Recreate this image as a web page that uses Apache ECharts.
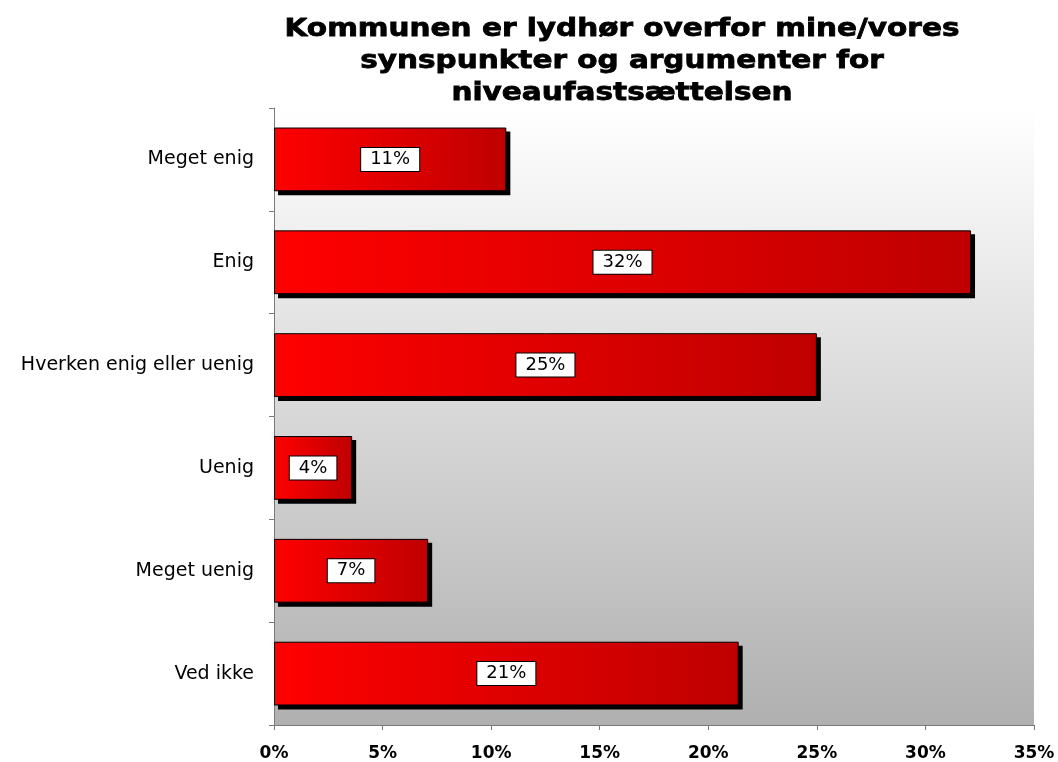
<!DOCTYPE html>
<html>
<head>
<meta charset="utf-8">
<script src="https://cdn.jsdelivr.net/npm/echarts@6/dist/echarts.min.js"></script>
<style>
  html, body { margin: 0; padding: 0; background: #fff; }
  #main { width: 1058px; height: 762px; }
</style>
</head>
<body>
<div id="main"></div>
<script>
// svarkategorier og andele (%)
var categories = ['Meget enig', 'Enig', 'Hverken enig eller uenig', 'Uenig', 'Meget uenig', 'Ved ikke'];
var values = [10.7, 32.1, 25.0, 3.6, 7.1, 21.4];
var xTicks = [0, 5, 10, 15, 20, 25, 30, 35];
var titleText = 'Kommunen er lydhør overfor mine/vores\nsynspunkter og argumenter for\nniveaufastsættelsen';

var chart = echarts.init(document.getElementById('main'));

// skygge bag hver bjælke (sort, forskudt 4px)
function renderShadow(params, api) {
  var start = api.coord([0, api.value(1)]);
  var end = api.coord([api.value(0), api.value(1)]);
  var h = api.size([0, 1])[1] * 0.62;
  return {
    type: 'rect',
    shape: { x: start[0] + 4, y: start[1] - h / 2 + 4, width: end[0] - start[0], height: h },
    style: { fill: '#000' }
  };
}

var option = {
  backgroundColor: '#ffffff',
  animation: false,
  graphic: [{
    type: 'text',
    x: 622,
    y: 13,
    scaleX: 1.18,
    style: {
      text: titleText,
      font: 'bold 25px "DejaVu Sans"',
      textAlign: 'center',
      textVerticalAlign: 'top',
      lineHeight: 32,
      fill: '#000',
      stroke: '#000',
      lineWidth: 0.8
    }
  }],
  grid: {
    left: 274,
    right: 24,
    top: 108,
    bottom: 34,
    show: true,
    borderWidth: 0,
    backgroundColor: {
      type: 'linear', x: 0, y: 0, x2: 0, y2: 1,
      colorStops: [
        { offset: 0, color: '#ffffff' },
        { offset: 1, color: '#b0b0b0' }
      ]
    }
  },
  xAxis: {
    type: 'value',
    min: xTicks[0],
    max: xTicks[xTicks.length - 1],
    interval: 5,
    splitLine: { show: false },
    axisLine: { show: true, lineStyle: { color: '#7a7a7a', width: 1 } },
    axisTick: { show: true, length: 5, lineStyle: { color: '#7a7a7a' } },
    axisLabel: {
      margin: 20,
      fontFamily: 'DejaVu Sans',
      fontWeight: 'bold',
      fontSize: 17,
      color: '#000',
      formatter: function (v) { return v + '%'; }
    }
  },
  yAxis: {
    type: 'category',
    inverse: true,
    data: categories,
    axisLine: { show: true, lineStyle: { color: '#7a7a7a', width: 1 } },
    axisTick: { show: true, length: 5, lineStyle: { color: '#7a7a7a' } },
    axisLabel: {
      margin: 20,
      fontFamily: 'DejaVu Sans',
      fontSize: 19,
      color: '#000'
    }
  },
  series: [{
    type: 'custom',
    renderItem: renderShadow,
    encode: { x: 0, y: 1 },
    data: values.map(function (v, i) { return [v, i]; }),
    z: 1,
    silent: true
  }, {
    type: 'bar',
    data: values,
    barWidth: '62%',
    z: 2,
    itemStyle: {
      color: {
        type: 'linear', x: 0, y: 0, x2: 1, y2: 0,
        colorStops: [
          { offset: 0, color: '#ff0000' },
          { offset: 1, color: '#bf0000' }
        ]
      },
      borderColor: '#000',
      borderWidth: 1
    },
    label: {
      show: true,
      position: 'inside',
      fontFamily: 'DejaVu Sans',
      fontSize: 18,
      color: '#000',
      backgroundColor: '#fff',
      borderColor: '#000',
      borderWidth: 1,
      padding: [3, 9, 2, 9],
      formatter: function (p) { return Math.round(p.value) + '%'; }
    }
  }]
};

chart.setOption(option);
</script>
</body>
</html>
